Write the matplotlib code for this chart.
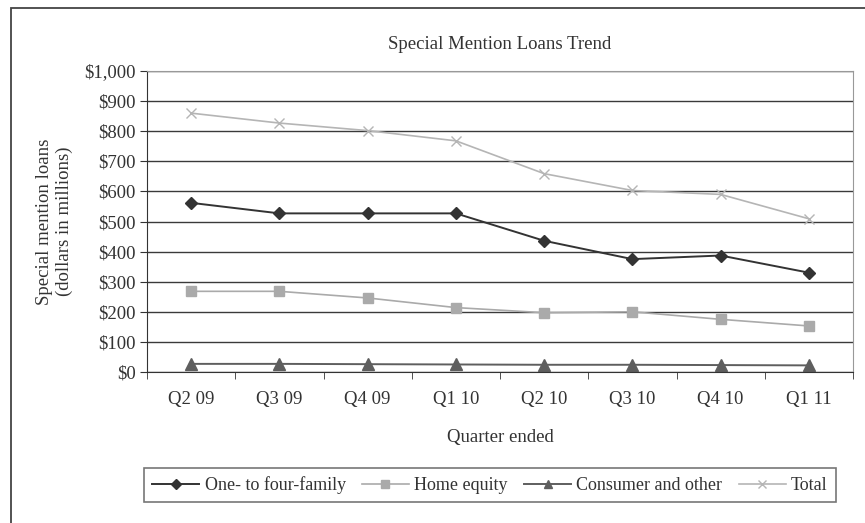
import matplotlib
matplotlib.use("Agg")
from matplotlib import pyplot as plt
from matplotlib.patches import Rectangle

quarters = ["Q2 09", "Q3 09", "Q4 09", "Q1 10", "Q2 10", "Q3 10", "Q4 10", "Q1 11"]
one_to_four = [562, 527, 527, 527, 436, 375, 387, 330]
home_equity = [268, 268, 246, 214, 197, 200, 175, 153]
consumer = [27, 27, 26, 25, 24, 24, 23, 22]
total = [860, 827, 802, 768, 659, 603, 590, 509]
y_ticks = list(range(0, 1001, 100))

plt.rcParams['font.family'] = ['Liberation Serif', 'DejaVu Serif']

fig = plt.figure(figsize=(8.65, 5.23), dpi=100)
ax = fig.add_axes([147 / 865, 1 - 372 / 523, (853 - 147) / 865, (372 - 71) / 523])

# outer frame around the whole chart
fig.patches.append(Rectangle((11 / 865, -0.1), 2, 1 - 8 / 523 + 0.1,
                             transform=fig.transFigure, fill=False,
                             edgecolor='#444444', linewidth=1.3))

x = range(len(quarters))
ax.plot(x, one_to_four, color='#333333', marker='D', markersize=6, lw=1.4,
        label='One- to four-family')
ax.plot(x, home_equity, color='#aaaaaa', marker='s', markersize=7, lw=1.2,
        label='Home equity')
ax.plot(x, consumer, color='#5e5e5e', marker='^', markersize=8, lw=1.4,
        label='Consumer and other')
ax.plot(x, total, color='#b5b5b5', marker='x', markersize=7, lw=1.2,
        label='Total')

ax.set_xlim(-0.5, len(quarters) - 0.5)
ax.set_ylim(0, 1000)
ax.set_yticks(y_ticks)
ax.set_yticklabels(['$' + format(v, ',') for v in y_ticks], fontsize=13.5)
ax.set_xticks(list(x))
ax.set_xticklabels(quarters, fontsize=13.5)
ax.set_xticks([i - 0.5 for i in range(len(quarters) + 1)], minor=True)
ax.tick_params(axis='x', which='major', length=0, pad=14)
ax.tick_params(axis='x', which='minor', length=5, color='#333333')
ax.tick_params(axis='y', length=5, color='#333333', pad=3)
ax.tick_params(colors='#333333', which='both')
ax.grid(axis='y', color='#3a3a3a', lw=1.0)
ax.set_axisbelow(True)

for side in ['top', 'right']:
    ax.spines[side].set_color('#999999')
ax.spines['left'].set_color('#333333')
ax.spines['bottom'].set_color('#333333')

ax.set_title('Special Mention Loans Trend', fontsize=13.5, color='#333333', pad=16)
ax.set_xlabel('Quarter ended', fontsize=13.5, color='#333333', labelpad=15)
ax.set_ylabel('Special mention loans\n(dollars in millions)', fontsize=13.5,
              color='#333333', labelpad=8, linespacing=1.25)

leg = fig.legend(loc='center', bbox_to_anchor=(490 / 865, 1 - 485 / 523), ncol=4,
                 fontsize=13, frameon=True, fancybox=False, edgecolor='#555555',
                 handlelength=2.6, handletextpad=0.3, columnspacing=0.9,
                 borderpad=0.45, markerscale=0.8)
leg.get_frame().set_linewidth(1.2)
for t in leg.get_texts():
    t.set_color('#333333')

fig.savefig('out.png', dpi=100)
